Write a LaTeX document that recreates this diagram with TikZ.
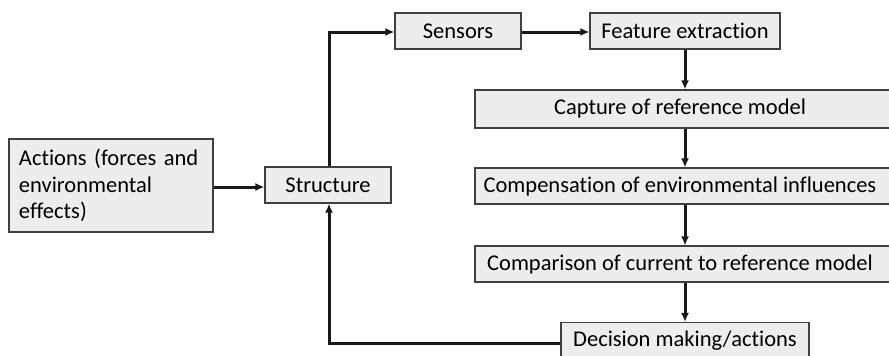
\documentclass[tikz,border=0pt]{standalone}
\usepackage{fontspec}
\setmainfont[Ligatures=CommonOff]{Carlito}
\usetikzlibrary{arrows.meta}
\begin{document}
\begin{tikzpicture}[x=1pt,y=-1pt,
  box/.style={draw=black!75,line width=1.1pt,fill=black!7,inner sep=0pt,
    font=\fontsize{22.5}{26.5}\selectfont,anchor=center},
  conn/.style={line width=3pt,black!90,-{Latex[length=9pt,width=8pt]}}]
\useasboundingbox (0,0) rectangle (889,356);
\clip (0,0) rectangle (889,356);
\node[box,minimum width=204pt,minimum height=93pt,text width=184pt,align=left] (act) at (111,185.5) {Actions (forces and\\ environmental\\ effects)};
\node[box,minimum width=126pt,minimum height=36pt] (str) at (328,185) {Structure};
\node[box,minimum width=126pt,minimum height=36pt] (sen) at (458,31) {Sensors};
\node[box,minimum width=190pt,minimum height=36pt] (fea) at (685,31) {Feature extraction};
\node[box,minimum width=416pt,minimum height=38pt] (cap) at (683,109) {\hspace*{-6pt}Capture of reference model};
\node[box,minimum width=416pt,minimum height=36pt] (com) at (683,186) {\hspace*{-6pt}Compensation of environmental influences};
\node[box,minimum width=416pt,minimum height=36pt] (cmp) at (683,264) {\hspace*{-6pt}Comparison of current to reference model};
\node[box,minimum width=248pt,minimum height=36pt] (dec) at (685,340.5) {Decision making/actions};
\coordinate (c1) at (329,32);
\coordinate (c2) at (329,343);
\draw[conn] (act.east |- 0,187) -- (str.west |- 0,187);
\draw[conn] (str.north -| c1) -- (c1) -- (sen.west |- c1);
\draw[conn] (sen.east |- c1) -- (fea.west |- c1);
\draw[conn] (fea.south) -- (cap.north -| fea.south);
\draw[conn] (cap.south -| fea.south) -- (com.north -| fea.south);
\draw[conn] (com.south -| fea.south) -- (cmp.north -| fea.south);
\draw[conn] (cmp.south -| fea.south) -- (dec.north -| fea.south);
\draw[conn] (dec.west |- c2) -- (c2) -- (str.south -| c2);
\end{tikzpicture}
\end{document}
